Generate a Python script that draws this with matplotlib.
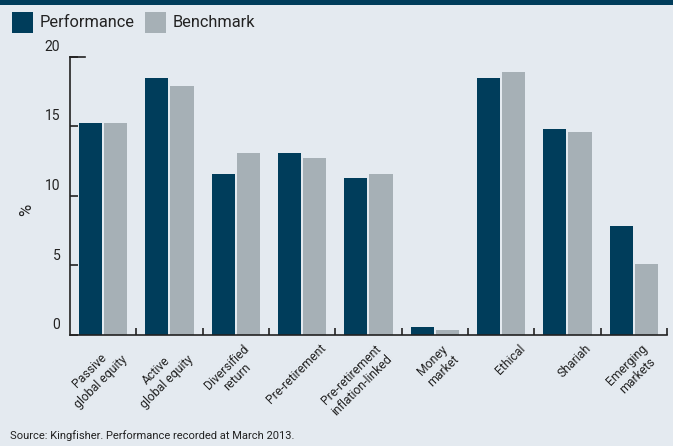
import matplotlib
matplotlib.use("Agg")
import matplotlib.pyplot as plt
import matplotlib.transforms as mtrans
from matplotlib.patches import Rectangle
import numpy as np

plt.rcParams["font.family"] = ["Roboto", "DejaVu Sans"]

funds = ["Passive\nglobal equity", "Active\nglobal equity", "Diversified\nreturn",
         "Pre-retirement", "Pre-retirement\ninflation-linked", "Money\nmarket",
         "Ethical", "Shariah", "Emerging\nmarkets"]
performance = [15.2, 18.5, 11.6, 13.1, 11.3, 0.6, 18.5, 14.8, 7.8]
benchmark = [15.2, 17.9, 13.1, 12.7, 11.6, 0.35, 18.9, 14.6, 5.1]
yticks = [0, 5, 10, 15, 20]

navy = "#003d5b"
grey = "#a6b0b6"
bg = "#e4eaf0"
ink = "#222222"

fig = plt.figure(figsize=(6.73, 4.46), dpi=100, facecolor=bg)
ax = fig.add_axes([0.104, 0.249, 0.887, 0.624])
ax.set_facecolor(bg)

x = np.arange(len(funds))
w = 0.35
ax.bar(x - 0.19, performance, w, color=navy)
ax.bar(x + 0.19, benchmark, w, color=grey)

ax.set_xlim(-0.5, len(funds) - 0.5)
ax.set_ylim(0, 20)

for s in ["top", "right"]:
    ax.spines[s].set_visible(False)
for s in ["left", "bottom"]:
    ax.spines[s].set_color(ink)
    ax.spines[s].set_linewidth(1.2)

# y axis: inward ticks; labels drawn by hand, sitting above each tick
ax.set_yticks(yticks)
ax.set_yticklabels([])
ax.tick_params(axis="y", direction="in", length=6, width=1.2, color=ink)
ylab_tr = ax.get_yaxis_transform() + mtrans.ScaledTranslation(-7 / 72, 7 / 72, fig.dpi_scale_trans)
for v in yticks:
    ax.text(0, v, str(v), transform=ylab_tr, ha="right", va="center", fontsize=10, color=ink)
ax.plot([0, 0.025], [20, 20], color=ink, lw=1.2, transform=ax.get_yaxis_transform(),
        clip_on=False)
ax.set_ylabel("%", fontsize=12, color=ink)
ax.yaxis.set_label_coords(-0.06, 0.45)

# x axis: separators between groups, rotated labels at group centres
ax.set_xticks(x + 0.5, minor=True)
ax.set_xticks(x)
ax.tick_params(axis="x", which="minor", direction="in", length=5, width=1.2, color=ink)
ax.tick_params(axis="x", which="major", length=0, pad=5)
ax.set_xticklabels(funds, rotation=45, ha="right", va="top",
                   multialignment="center", fontsize=8.8, color=ink)
xlab_shift = mtrans.ScaledTranslation(19 / 72, 0, fig.dpi_scale_trans)
for t in ax.xaxis.get_major_ticks():
    t.label1.set_transform(t.label1.get_transform() + xlab_shift)

# top banner
fig.add_artist(Rectangle((0, 1 - 5 / 446), 1, 5 / 446, transform=fig.transFigure,
                         color=navy, lw=0))

# legend
fig.add_artist(Rectangle((12 / 673, 1 - 33 / 446), 21 / 673, 21 / 446,
                         transform=fig.transFigure, color=navy, lw=0))
fig.text(40 / 673, 1 - 22.5 / 446, "Performance", fontsize=11.8, color=ink, va="center")
fig.add_artist(Rectangle((145 / 673, 1 - 33 / 446), 21 / 673, 21 / 446,
                         transform=fig.transFigure, color=grey, lw=0))
fig.text(173 / 673, 1 - 22.5 / 446, "Benchmark", fontsize=11.8, color=ink, va="center")

fig.text(10 / 673, 1 - 436 / 446, "Source: Kingfisher. Performance recorded at March 2013.",
         fontsize=8, color=ink, va="center")

fig.savefig("out.png", dpi=100, facecolor=bg)
